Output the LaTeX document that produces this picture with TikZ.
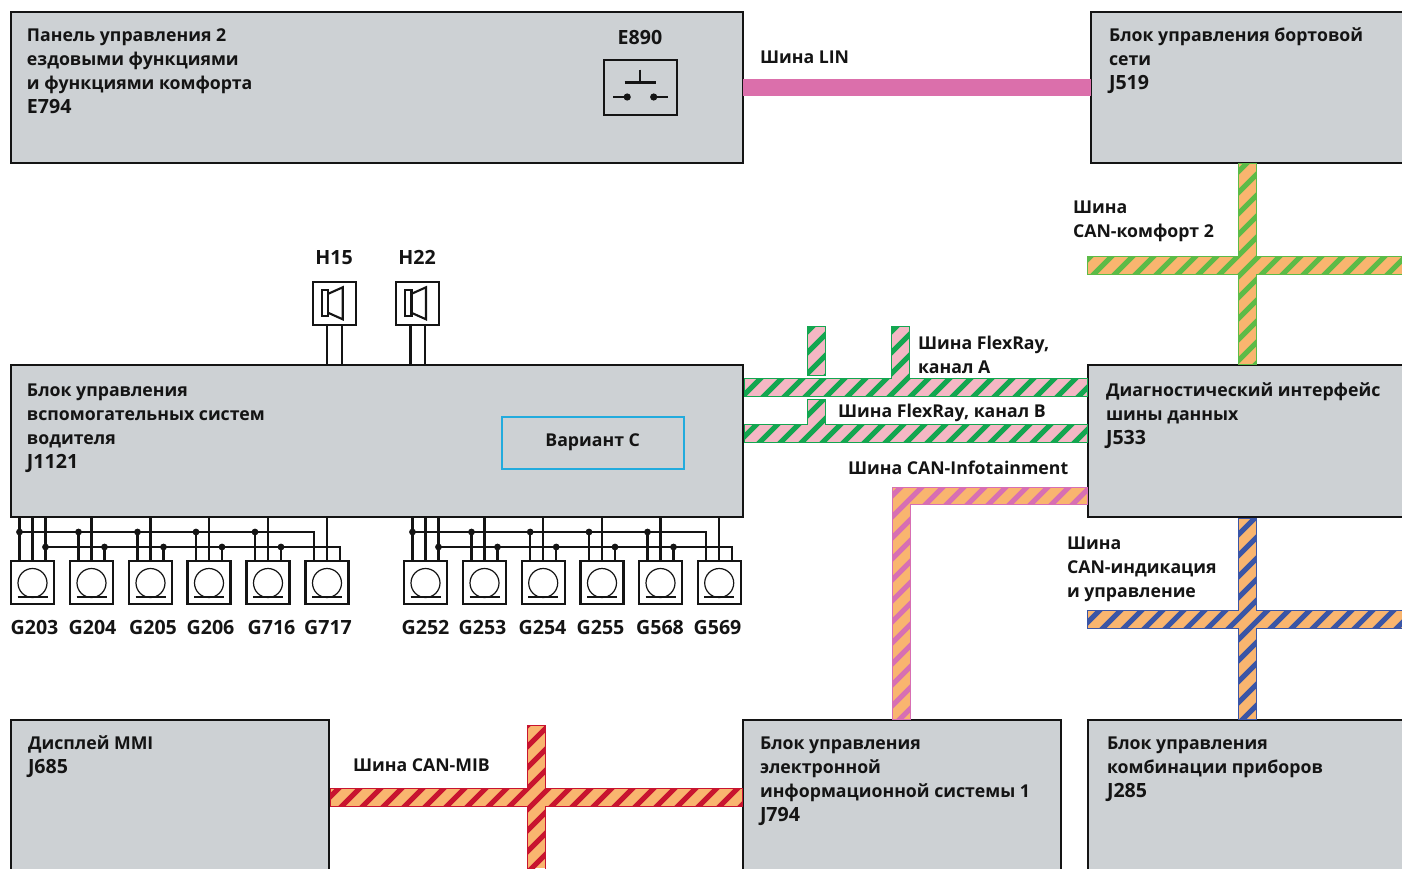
\documentclass[tikz,border=0pt]{standalone}
\usepackage{fontspec}
\setmainfont{Open Sans}
\usetikzlibrary{calc}
\definecolor{boxgray}{HTML}{CDD1D4}
\definecolor{ink}{HTML}{141414}
\definecolor{linpink}{HTML}{DB6FAB}
\definecolor{orangeb}{HTML}{F9B56F}
\definecolor{comfgreen}{HTML}{5CBB47}
\definecolor{flexpink}{HTML}{F4B7C4}
\definecolor{flexgreen}{HTML}{13A650}
\definecolor{infopink}{HTML}{D76FB3}
\definecolor{indblue}{HTML}{3A55A6}
\definecolor{mibred}{HTML}{C8142F}
\definecolor{variantblue}{HTML}{22ABDD}
\newcommand\code[1]{{\fontsize{19.6}{24}\selectfont #1}}
\tikzset{
  ctrlbox/.style={draw=ink,fill=boxgray,line width=2.6pt,rectangle,inner sep=0pt,outer sep=0pt,anchor=north west},
  symbox/.style={draw=ink,fill=white,line width=2.3pt,rectangle,inner sep=0pt,outer sep=0pt,minimum size=43pt},
  wire/.style={draw=ink,line width=2.1pt},
  thinwire/.style={draw=ink,line width=1.2pt},
  lbl/.style={inner sep=0pt,outer sep=0pt,anchor=north west,align=left,text=ink,font=\fontsize{17.7}{24}\selectfont\bfseries},
}
\newcommand\txt[5][]{\node[lbl,#1] (#2) at (#3,{#4-10.8}) {\strut #5};}
\newcommand\busband[4]{%
  \begin{scope}
    \clip #4;
    \fill[#1] (0,0) rectangle (1402,868);
    \foreach \k in {0,...,110}{\draw[#2,line width=5pt] ({\k*21+#3},0) -- ++(-900,900);}
  \end{scope}
  \draw[#2,line width=0.9pt] #4;}
\newcommand\sensorset[6]{%
  \coordinate (r1a) at ($(#1.north)+(-13,0)$);
  \coordinate (r2a) at ($(#1.north)+(13,0)$);
  \coordinate (r1b) at ($(#6.north)+(-13,0)$);
  \coordinate (r2b) at ($(#6.north)+(13,0)$);
  \draw[wire] (r1a) -- (r1a |- j1121.south);
  \draw[wire] (#1.north) -- (#1.north |- j1121.south);
  \draw[wire] (r2a) -- (r2a |- j1121.south);
  \draw[wire] (r1a |- 0,532) -- (r1b |- 0,532) -- (r1b);
  \draw[wire] (r2a |- 0,547) -- (r2b |- 0,547) -- (r2b);
  \draw[wire] (#6.north) -- (#6.north |- j1121.south);
  \fill[ink] (r1a |- 0,532) circle (3.4pt);
  \fill[ink] (r2a |- 0,547) circle (3.4pt);
  \foreach \g in {#2,#3,#4,#5}{
    \coordinate (pl) at ($(\g.north)+(-13,0)$);
    \coordinate (pr) at ($(\g.north)+(13,0)$);
    \draw[wire] (pl) -- (pl |- 0,532);
    \draw[wire] (pr) -- (pr |- 0,547);
    \draw[wire] (\g.north) -- (\g.north |- j1121.south);
    \fill[ink] (pl |- 0,532) circle (3.4pt);
    \fill[ink] (pr |- 0,547) circle (3.4pt);
  }}
\begin{document}
\begin{tikzpicture}[x=1pt,y=-1pt]
\useasboundingbox (0,0) rectangle (1402,868);
\clip (0,0) rectangle (1402,868);
% control units
\node[ctrlbox,minimum width=732pt,minimum height=151pt] (e794) at (11,12) {};
\node[ctrlbox,minimum width=340pt,minimum height=151pt] (j519) at (1091,12) {};
\node[ctrlbox,minimum width=732pt,minimum height=152pt] (j1121) at (11,365) {};
\node[ctrlbox,minimum width=340pt,minimum height=152pt] (j533) at (1088,365) {};
\node[ctrlbox,minimum width=318pt,minimum height=180pt] (j685) at (11,720) {};
\node[ctrlbox,minimum width=318pt,minimum height=180pt] (j794) at (743,720) {};
\node[ctrlbox,minimum width=340pt,minimum height=180pt] (j285) at (1088,720) {};
% buses
\draw[linpink,line width=17pt] (e794.east |- 0,87.5) -- (j519.west |- 0,87.5);
\busband{orangeb}{comfgreen}{3}{(1238.5,163.5) -- (1256.5,163.5) -- (1256.5,256) -- (1403,256) -- (1403,274) -- (1256.5,274) -- (1256.5,364) -- (1238.5,364) -- (1238.5,274) -- (1087.5,274) -- (1087.5,256) -- (1238.5,256) -- cycle}
\busband{orangeb}{indblue}{9}{(1238.5,518) -- (1256.5,518) -- (1256.5,610) -- (1403,610) -- (1403,628) -- (1256.5,628) -- (1256.5,719) -- (1238.5,719) -- (1238.5,628) -- (1087.5,628) -- (1087.5,610) -- (1238.5,610) -- cycle}
\busband{orangeb}{mibred}{14}{(527,725) -- (545.5,725) -- (545.5,788) -- (742,788) -- (742,806) -- (545.5,806) -- (545.5,869) -- (527,869) -- (527,806) -- (330,806) -- (330,788) -- (527,788) -- cycle}
\busband{flexpink}{flexgreen}{5}{(744,378.5) -- (891.5,378.5) -- (891.5,326) -- (909,326) -- (909,378.5) -- (1087,378.5) -- (1087,396.5) -- (744,396.5) -- cycle}
\busband{flexpink}{flexgreen}{5}{(744,424.5) -- (807,424.5) -- (807,399.5) -- (825,399.5) -- (825,424.5) -- (1087,424.5) -- (1087,442.5) -- (744,442.5) -- cycle}
\busband{flexpink}{flexgreen}{5}{(807,326) rectangle (825,375)}
\busband{orangeb}{infopink}{2}{(892.5,487.5) -- (1087,487.5) -- (1087,504.5) -- (910,504.5) -- (910,719) -- (892.5,719) -- cycle}
% speakers
\node[symbox] (h15box) at (334.2,303.3) {};
\node[symbox] (h22box) at (417.5,303.3) {};
\foreach \b/\dx in {h15box/-7,h15box/7.4,h22box/-7,h22box/7.4}{
  \coordinate (sw) at ($(\b.south)+(\dx,0)$);
  \draw[wire] (sw) -- (sw |- j1121.north);}
\foreach \b in {h15box,h22box}{
  \draw[wire] ($(\b.center)+(-12.5,-13)$) rectangle ($(\b.center)+(-6,13)$);
  \draw[wire,line join=miter] ($(\b.center)+(-6,-9.5)$) -- ($(\b.center)+(8.5,-16)$) -- ($(\b.center)+(8.5,16)$) -- ($(\b.center)+(-6,9.5)$);}
% switch
\node[symbox,minimum width=73pt,minimum height=55pt,fill=boxgray] (e890box) at (640.2,87.5) {};
\draw[wire] ($(e890box.center)+(-15.5,-5)$) -- ($(e890box.center)+(15.5,-5)$);
\draw[wire] ($(e890box.center)+(0,-18)$) -- ($(e890box.center)+(0,-5)$);
\draw[wire] ($(e890box.center)+(-27,9.5)$) -- ($(e890box.center)+(-13,9.5)$);
\draw[wire] ($(e890box.center)+(13.5,9.5)$) -- ($(e890box.center)+(27.5,9.5)$);
\fill[ink] ($(e890box.center)+(-13,9.5)$) circle (3.6pt);
\fill[ink] ($(e890box.center)+(13.5,9.5)$) circle (3.6pt);
% sensors
\foreach \n/\cx/\t/\lx in {g203/32.5/G203/34.5,g204/91.5/G204/92.5,g205/150.5/G205/153,g206/209/G206/210.5,g716/268/G716/271.5,g717/327/G717/328,
  g252/425.5/G252/425.5,g253/484.5/G253/482.5,g254/543.2/G254/542.5,g255/602/G255/600.5,g568/660.5/G568/660,g569/719.2/G569/717.5}{
  \node[symbox] (\n) at (\cx,582.5) {};
  \node[lbl,anchor=center,font=\fontsize{19.6}{22}\selectfont\bfseries] (lab\n) at (\lx,627) {\t};
  \draw[thinwire] ($(\n.center)+(0,0.5)$) circle (14.5pt);
  \draw[wire] ($(\n.center)+(-15,14.5)$) -- ($(\n.center)+(15,14.5)$);
}
\sensorset{g203}{g204}{g205}{g206}{g716}{g717}
\sensorset{g252}{g253}{g254}{g255}{g568}{g569}
% variant box
\node[draw=variantblue,fill=boxgray,line width=2.4pt,minimum width=182pt,minimum height=52pt,inner sep=0pt,anchor=north west,text=ink,font=\fontsize{17.7}{24}\selectfont\bfseries] (variant) at (500.5,415.5) {Вариант С};
% text
\txt{te794}{27}{35}{Панель управления 2\\ездовыми функциями\\и функциями комфорта\\\code{E794}}
\txt[anchor=north]{te890}{640}{38}{\code{E890}}
\txt{tlin}{760}{57}{Шина LIN}
\txt{tj519}{1109}{35}{Блок управления бортовой\\сети\\\code{J519}}
\txt{tcomf}{1073}{207}{Шина\\CAN-комфорт 2}
\txt[anchor=north]{th15}{334}{258}{\code{H15}}
\txt[anchor=north]{th22}{417}{258}{\code{H22}}
\txt{tfa}{918}{343}{Шина FlexRay,\\канал A}
\txt{tfb}{838}{411}{Шина FlexRay, канал B}
\txt{tinfo}{848}{468}{Шина CAN-Infotainment}
\txt{tj533}{1106}{390}{Диагностический интерфейс\\шины данных\\\code{J533}}
\txt{tj1121}{27}{390}{Блок управления\\вспомогательных систем\\водителя\\\code{J1121}}
\txt{tind}{1067}{543}{Шина\\CAN-индикация\\и управление}
\txt{tj685}{28}{743}{Дисплей MMI\\\code{J685}}
\txt{tmib}{353}{765}{Шина CAN-MIB}
\txt{tj794}{760}{743}{Блок управления\\электронной\\информационной системы 1\\\code{J794}}
\txt{tj285}{1107}{743}{Блок управления\\комбинации приборов\\\code{J285}}
\end{tikzpicture}
\end{document}
